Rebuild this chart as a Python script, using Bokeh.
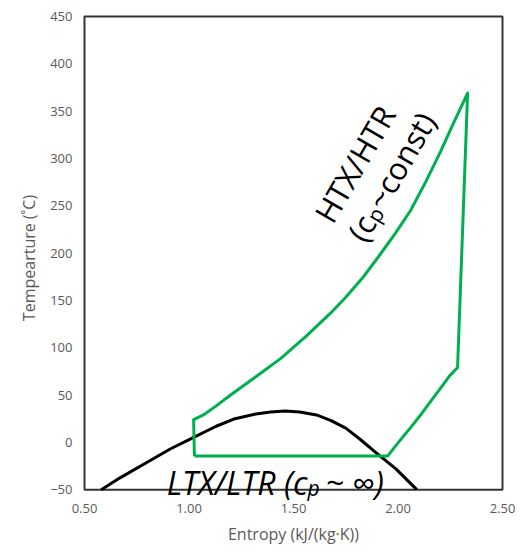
import math
from bokeh.plotting import figure
from bokeh.models import Range1d, FixedTicker, NumeralTickFormatter, Label
from bokeh.embed import file_html
from bokeh.resources import INLINE

# ---- data ----
dome_s = [0.58, 0.67, 0.80, 0.91, 1.02, 1.13, 1.22, 1.32, 1.39, 1.46, 1.53,
          1.61, 1.68, 1.75, 1.82, 1.89, 1.99, 2.09]
dome_T = [-50, -37.5, -21, -7, 5, 17, 25, 30, 32, 33, 32,
          29, 23, 15, 3, -10, -28, -50]

cycle_s = [1.026, 1.022, 1.069, 1.127, 1.199, 1.318, 1.438, 1.557, 1.677, 1.749,
           1.835, 1.916, 1.988, 2.060, 2.132, 2.203, 2.266, 2.333,
           2.285, 2.246, 2.218, 2.165, 2.112, 2.060, 2.002, 1.950, 1.026]
cycle_T = [-14.5, 24, 29, 38, 50, 69, 88.5, 111.5, 136.5, 153,
           175, 199, 221, 245, 275, 307, 337.5, 369,
           79, 70, 61.5, 46, 30, 15.5, 0, -14.5, -14.5]

x_ticks = [0.5, 1.0, 1.5, 2.0, 2.5]
y_ticks = [-50, 0, 50, 100, 150, 200, 250, 300, 350, 400, 450]

x_lo, x_hi = 0.5, 2.5
y_lo, y_hi = -50, 450

GREEN = "#00B050"
GRAY = "#595959"
FONT = "Open Sans"

# frame is a little larger than the drawn box so text below the box is not clipped
pad_x = 2 / 209.0
pad_top = 2 / 0.96
pad_bot = 12 / 0.96

p = figure(width=521, height=547, title=None,
           x_range=Range1d(x_lo - pad_x, x_hi + pad_x),
           y_range=Range1d(y_lo - pad_bot, y_hi + pad_top),
           output_backend="svg", toolbar_location=None,
           min_border_left=82, min_border_right=17,
           min_border_top=14, min_border_bottom=39)

p.grid.visible = False
p.outline_line_color = None
p.background_fill_color = "white"
p.border_fill_color = "white"

for ax in (p.xaxis[0], p.yaxis[0]):
    ax.axis_line_color = None
    ax.major_tick_line_color = None
    ax.minor_tick_line_color = None
    ax.major_tick_out = 0
    ax.major_tick_in = 0
    ax.minor_tick_out = 0
    ax.major_label_text_font = FONT
    ax.major_label_text_font_size = "13px"
    ax.major_label_text_color = GRAY
    ax.axis_label_text_font = FONT
    ax.axis_label_text_font_size = "16px"
    ax.axis_label_text_font_style = "normal"
    ax.axis_label_text_color = GRAY

p.xaxis.ticker = FixedTicker(ticks=x_ticks)
p.xaxis.formatter = NumeralTickFormatter(format="0.00")
p.yaxis.ticker = FixedTicker(ticks=y_ticks)
p.xaxis.major_label_standoff = 2
p.yaxis.major_label_standoff = 10
p.xaxis.axis_label = "Entropy (kJ/(kg\u00b7K))"
p.yaxis.axis_label = "Tempearture (\u02daC)"
p.xaxis.axis_label_standoff = 7
p.yaxis.axis_label_standoff = 7

# plot box
p.quad(left=[x_lo], right=[x_hi], bottom=[y_lo], top=[y_hi],
       fill_color=None, line_color="#333333", line_width=2)

p.line(dome_s, dome_T, line_color="black", line_width=3, line_join="round")
p.line(cycle_s, cycle_T, line_color=GREEN, line_width=3, line_join="round")


def at(ix, iy):
    # picture pixel -> data position (for text placement only)
    return dict(x=0.5 + (ix - 84) / 209.0, y=450 - (iy - 16) / 0.96)


def lab(ix, iy, text, size, align="left", angle=0, style="normal"):
    p.add_layout(Label(**at(ix, iy), text=text, angle=angle, angle_units="deg",
                       text_font=FONT, text_font_size=size, text_font_style=style,
                       text_color="black", text_align=align,
                       text_baseline="alphabetic"))


# bottom label: LTX/LTR (c_p ~ inf)
lab(307, 489, "LTX/LTR (c", "32px", align="right", style="italic")
lab(307, 494, "p", "21px", style="italic")
lab(325, 489, "~ \u221e)", "32px", style="italic")

# rotated label: HTX/HTR (c_p ~const)
ang = 60
d = (math.cos(math.radians(ang)), -math.sin(math.radians(ang)))   # along text (picture coords)
n = (math.sin(math.radians(ang)), math.cos(math.radians(ang)))    # down from text
x1, y1 = 322, 222
lab(x1, y1, "HTX/HTR", "31px", angle=ang)
x2, y2 = x1 + 38 * n[0], y1 + 38 * n[1]
lab(x2, y2, "(c", "31px", angle=ang)
px_, py_ = x2 + 24 * d[0] + 5 * n[0], y2 + 24 * d[1] + 5 * n[1]
lab(px_, py_, "p", "21px", angle=ang)
qx, qy = x2 + 38 * d[0], y2 + 38 * d[1]
lab(qx, qy, "~const)", "31px", angle=ang)

open("out.html", "w").write(file_html(p, INLINE))
